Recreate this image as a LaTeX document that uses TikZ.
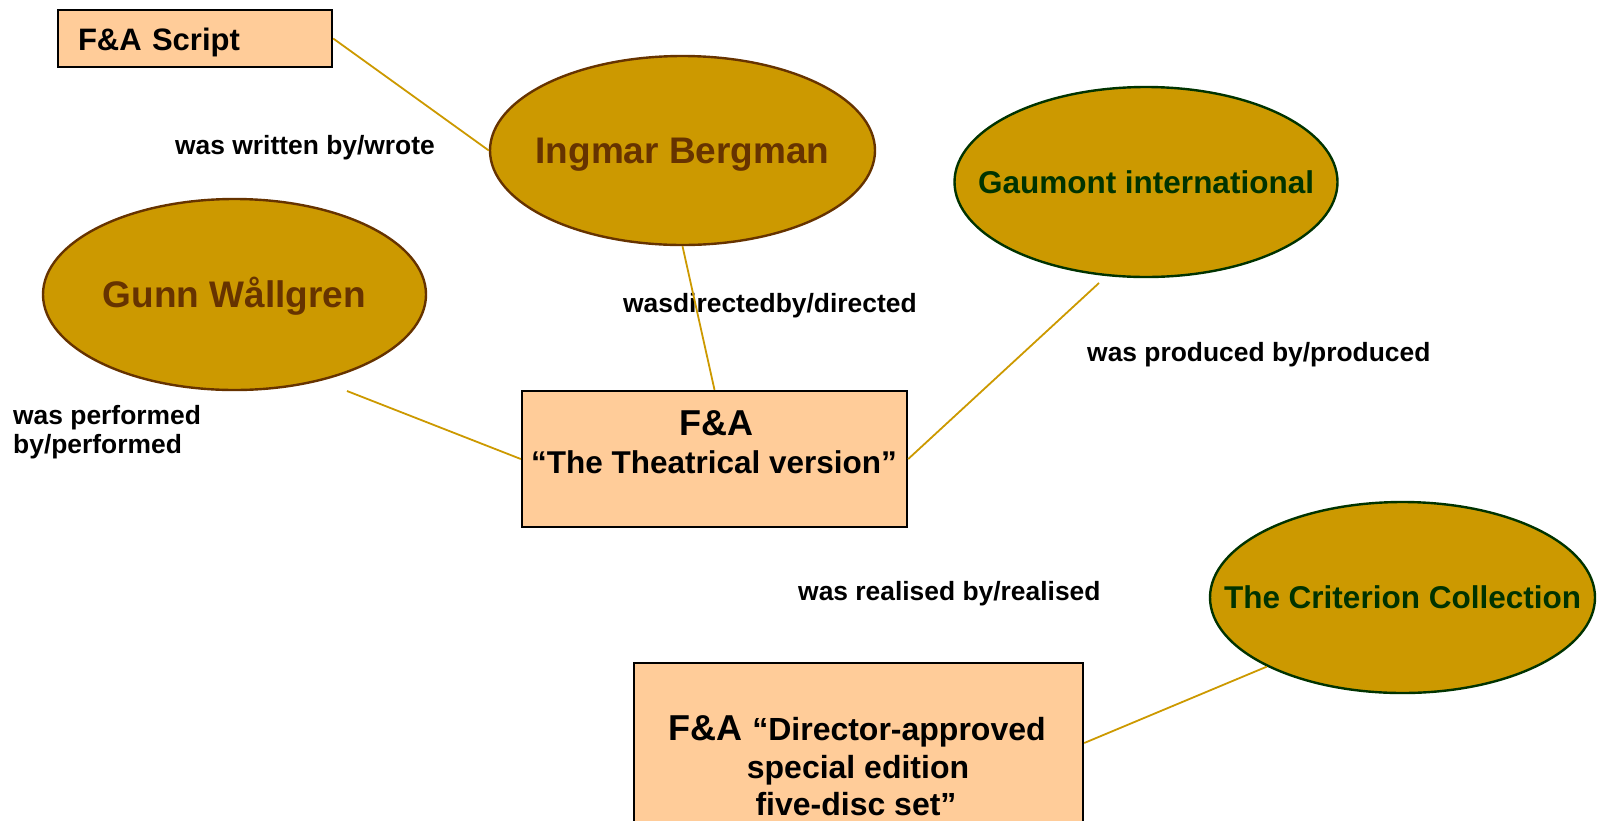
\documentclass[tikz,border=0pt]{standalone}
\usepackage{fontspec}
\setmainfont{Liberation Sans}
\usetikzlibrary{shapes.geometric}
\definecolor{gold}{HTML}{CC9900}
\definecolor{brownc}{HTML}{663300}
\definecolor{greenc}{HTML}{003300}
\definecolor{peach}{HTML}{FFCC99}
\newcommand\setfs[1]{\fontsize{#1}{#1}\selectfont}
\begin{document}
\begin{tikzpicture}[x=1pt,y=-1pt,
  oval/.style={ellipse, draw, fill=gold, line width=2.4pt, inner sep=0pt, text depth=0pt},
  boxnode/.style={rectangle, draw=black, fill=peach, line width=2.4pt, inner sep=0pt},
  link/.style={draw=gold, line width=1.8pt},
  rel/.style={anchor=base west, inner sep=0pt, font=\bfseries\setfs{26.4}},
  txt/.style={anchor=base, inner sep=0pt}
]
\useasboundingbox (0,0) rectangle (1597,820);
\clip (0,0) rectangle (1597,820);

% boxes
\node[boxnode, minimum width=274pt, minimum height=57pt, text width=234pt, inner xsep=20pt,
      align=left, text height=23pt, text depth=0pt, font=\bfseries\setfs{31}] (script) at (195,38.5) {F\&A Script};
\node[boxnode, minimum width=385pt, minimum height=136pt] (theat) at (714.5,459) {};
\node[txt, font=\bfseries\setfs{36}] (theatA) at (716,435) {F\&A};
\node[txt, font=\bfseries\setfs{31.5}] (theatB) at (714,473) {“The Theatrical version”};

\node[boxnode, minimum width=449pt, minimum height=160pt] (dir) at (858.5,743) {};
\node[txt, font=\bfseries] (dirA) at (857,740) {{\setfs{36}F\&A\ }{\setfs{32}“Director-approved}};
\node[txt, font=\bfseries\setfs{32}] (dirB) at (858,778) {special edition};
\node[txt, font=\bfseries\setfs{32}] (dirC) at (856,815) {five-disc set”};

% ellipses
\node[oval, draw=brownc, text=brownc, minimum width=385pt, minimum height=189pt,
      text height=26.5pt, font=\bfseries\setfs{37}] (ingmar) at (682.5,150.5) {\makebox[0pt]{Ingmar Bergman}};
\node[oval, draw=brownc, text=brownc, minimum width=383pt, minimum height=191pt,
      text height=26.5pt, font=\bfseries\setfs{37}] (gunn) at (234.5,294.5) {\makebox[0pt]{Gunn Wållgren}};
\node[oval, draw=greenc, text=greenc, minimum width=383pt, minimum height=190pt,
      text height=22.6pt, font=\bfseries\setfs{31.5}] (gaumont) at (1146,182) {\makebox[0pt]{Gaumont international}};
\node[oval, draw=greenc, text=greenc, minimum width=385pt, minimum height=191pt,
      text height=22.6pt, font=\bfseries\setfs{31.5}] (crit) at (1402.5,597.5) {\makebox[0pt]{The Criterion Collection}};

% relation labels
\node[rel] (lwrote) at (175,154) {was written by/wrote};
\node[rel] (ldirected) at (623,312) {wasdirectedby/directed};
\node[rel] (lproduced) at (1087,361) {was produced by/produced};
\node[rel] (lperf1) at (13,424) {was performed};
\node[rel] (lperf2) at (13,453) {by/performed};
\node[rel] (lrealised) at (798,600) {was realised by/realised};

% connectors
\coordinate (gunnend) at (347,391);
\coordinate (gaumontend) at (1099,283);
\draw[link] (script.east) -- (ingmar.west);
\draw[link] (ingmar.south) -- (theat.north);
\draw[link] (gunnend) -- (theat.west);
\draw[link] (gaumontend) -- (theat.east);
\draw[link] (crit.207) -- (dir.east);
\end{tikzpicture}
\end{document}
